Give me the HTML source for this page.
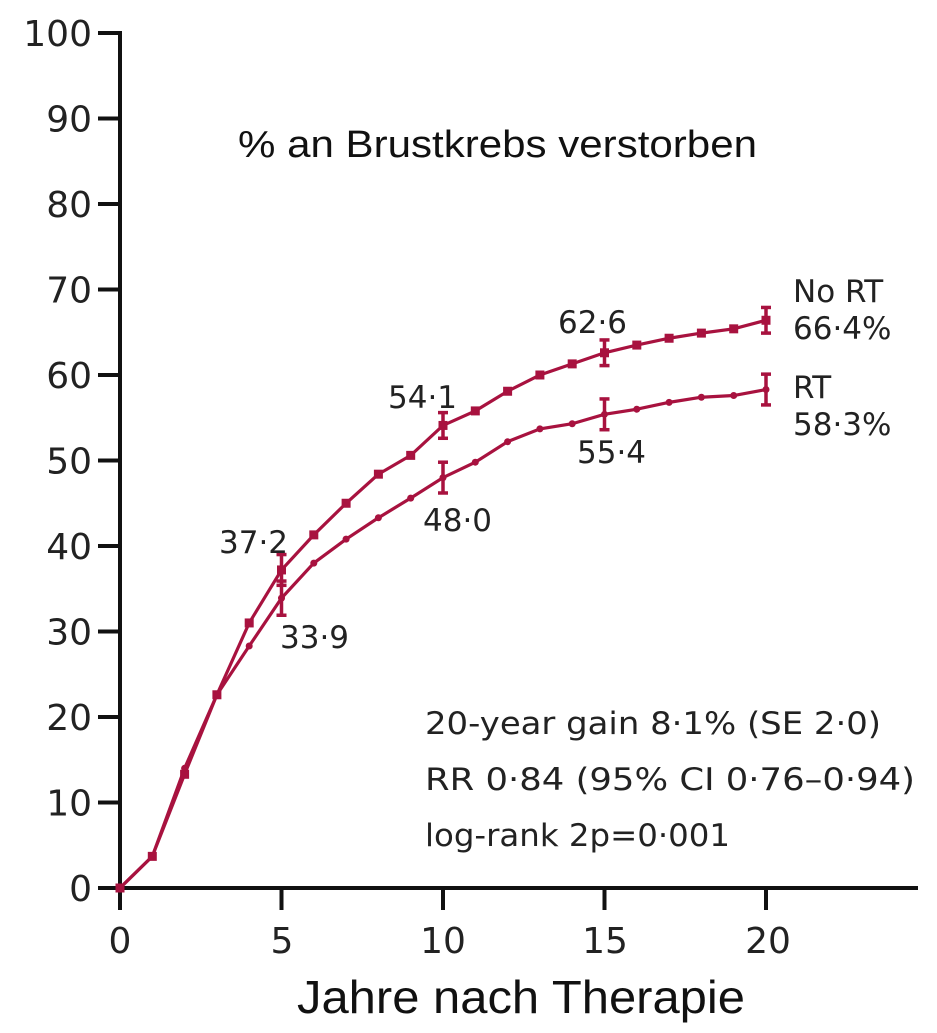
<!DOCTYPE html>
<html><head><meta charset="utf-8"><style>
body{margin:0;background:#fff;}
svg{display:block;font-family:"DejaVu Sans","Liberation Sans",sans-serif;}
</style></head><body>
<svg width="937" height="1033" viewBox="0 0 937 1033" xmlns="http://www.w3.org/2000/svg">
<g stroke="#111" stroke-width="4" fill="none">
<line x1="120" y1="31" x2="120" y2="890"/>
<line x1="118" y1="888" x2="918" y2="888"/>
</g>
<g stroke="#111" stroke-width="4" id="ticks"></g>
<g font-size="36" fill="#222" text-anchor="end" id="ylab"></g>
<g font-size="36" fill="#222" text-anchor="middle">
<text x="120" y="953">0</text><text x="282" y="953">5</text><text x="443" y="953">10</text><text x="605" y="953">15</text><text x="768" y="953">20</text>
</g>
<text x="297" y="1013" font-size="46" fill="#111" font-family="'Liberation Sans',sans-serif" textLength="448" lengthAdjust="spacingAndGlyphs">Jahre nach Therapie</text>
<text x="238" y="157" font-size="38" fill="#111" font-family="'Liberation Sans',sans-serif" textLength="519" lengthAdjust="spacingAndGlyphs">% an Brustkrebs verstorben</text>
<g id="series"></g>
<g font-size="31" fill="#222">
<text x="219" y="553">37·2</text>
<text x="280" y="648">33·9</text>
<text x="388" y="408">54·1</text>
<text x="423" y="531">48·0</text>
<text x="558" y="333">62·6</text>
<text x="577" y="463">55·4</text>
<text x="793" y="302">No RT</text>
<text x="793" y="339">66·4%</text>
<text x="793" y="398">RT</text>
<text x="793" y="435">58·3%</text>
</g>
<g font-size="31" fill="#222">
<text x="425" y="734" textLength="456" lengthAdjust="spacingAndGlyphs">20-year gain 8·1% (SE 2·0)</text>
<text x="425" y="790" textLength="490" lengthAdjust="spacingAndGlyphs">RR 0·84 (95% CI 0·76–0·94)</text>
<text x="425" y="846" textLength="305" lengthAdjust="spacingAndGlyphs">log-rank 2p=0·001</text>
</g>
<script>
var ns="http://www.w3.org/2000/svg";
function el(p,t,a){var e=document.createElementNS(ns,t);for(var k in a)e.setAttribute(k,a[k]);p.appendChild(e);return e;}
var X=function(t){return 120+t*32.3},Y=function(v){return 888-v*8.55};
var tk=document.getElementById('ticks'),yl=document.getElementById('ylab');
for(var v=0;v<=100;v+=10){el(tk,'line',{x1:98,x2:120,y1:Y(v),y2:Y(v)});var t=el(yl,'text',{x:92,y:Y(v)+13});t.textContent=v;}
[5,10,15,20].forEach(function(t){el(tk,'line',{x1:X(t),x2:X(t),y1:888,y2:910});});
el(tk,'line',{x1:120,x2:120,y1:888,y2:910});
var no=[0,3.7,13.3,22.6,31,37.2,41.3,45,48.4,50.6,54.1,55.8,58.1,60,61.3,62.6,63.5,64.3,64.9,65.4,66.4];
var rt=[0,3.7,14,22.6,28.3,33.9,38,40.8,43.3,45.6,48,49.8,52.2,53.7,54.3,55.4,56,56.8,57.4,57.6,58.3];
var s=document.getElementById('series'),c="#a8123f";
[no,rt].forEach(function(d,i){
 el(s,'polyline',{points:d.map(function(v,t){return X(t)+','+Y(v)}).join(' '),fill:'none',stroke:c,'stroke-width':3.2});
 d.forEach(function(v,t){
  if(i==0)el(s,'rect',{x:X(t)-4.5,y:Y(v)-4.5,width:9,height:9,fill:c});
  else el(s,'circle',{cx:X(t),cy:Y(v),r:3.5,fill:c});
  if(t%5==0&&t>0){var h=i==0?(t==5?1.8:1.5):(t==5?2:1.8);
   el(s,'line',{x1:X(t),x2:X(t),y1:Y(v-h),y2:Y(v+h),stroke:c,'stroke-width':3.5});
   el(s,'line',{x1:X(t)-5,x2:X(t)+5,y1:Y(v-h),y2:Y(v-h),stroke:c,'stroke-width':3.5});
   el(s,'line',{x1:X(t)-5,x2:X(t)+5,y1:Y(v+h),y2:Y(v+h),stroke:c,'stroke-width':3.5});}
 });
});
</script>
</svg>
</body></html>
